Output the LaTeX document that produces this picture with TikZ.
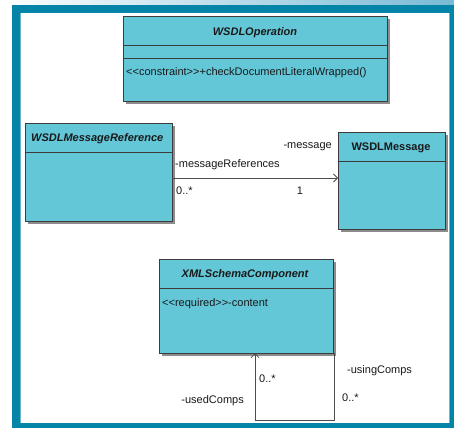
\documentclass[tikz,border=0pt]{standalone}
\usepackage{fontspec}
\setmainfont{Liberation Sans}
\usetikzlibrary{arrows.meta,shadows}
\definecolor{frameteal}{RGB}{4,132,166}
\definecolor{frameedge}{RGB}{110,180,205}
\definecolor{stripblue}{RGB}{120,186,214}
\definecolor{boxfill}{RGB}{99,199,216}
\definecolor{boxline}{RGB}{60,60,60}
\definecolor{txt}{RGB}{25,25,25}
\begin{document}
\begin{tikzpicture}[x=1pt,y=-1pt,
  font=\fontsize{11}{13}\selectfont,
  umlbox/.style={draw=boxline,line width=0.8pt,fill=boxfill,inner sep=0pt,anchor=north west,
    drop shadow={shadow xshift=3pt,shadow yshift=-3pt,fill=black!45,opacity=1}},
  sepline/.style={draw=boxline,line width=0.8pt},
  lbl/.style={inner sep=0pt,text=txt,yshift=-1.5pt},
  ttl/.style={lbl,font=\fontsize{11}{13}\selectfont\bfseries\itshape},
  assoc/.style={draw=black!70,line width=0.8pt},
  tip/.style={-{Straight Barb[length=4pt,width=8pt]}}
]
\useasboundingbox (0,0) rectangle (454,428);
\fill[white] (0,0) rectangle (454,428);
\shade[left color=white,right color=stripblue] (0,0) rectangle (454,5);
\fill[frameteal] (12,5) rectangle (454,428);
\fill[white] (20,13) rectangle (450,423);
\draw[frameedge,line width=0.8pt] (20.4,13) -- (20.4,423);
\draw[frameedge,line width=0.8pt] (449.6,13) -- (449.6,423);

% WSDLOperation
\node[umlbox,minimum width=264pt,minimum height=85pt] (op) at (123,16) {};
\draw[sepline] (123,45) -- (387,45);
\draw[sepline] (123,58) -- (387,58);
\node[ttl] (optitle) at (255,31) {WSDLOperation};
\node[lbl,anchor=west] (opmeth) at (126,71) {<{}<constraint>{}>+checkDocumentLiteralWrapped()};

% WSDLMessageReference
\node[umlbox,minimum width=147pt,minimum height=98pt] (mref) at (25,123) {};
\draw[sepline] (25,152) -- (172,152);
\node[ttl,anchor=west] (mreftitle) at (31,137) {WSDLMessageReference};

% WSDLMessage
\node[umlbox,minimum width=107pt,minimum height=97pt] (msg) at (338,132) {};
\draw[sepline] (338,161) -- (445,161);
\node[lbl,font=\fontsize{11}{13}\selectfont\bfseries] (msgtitle) at (391,146) {WSDLMessage};

% association
\coordinate (a1) at (172,178);
\coordinate (a2) at (338,178);
\draw[assoc,tip] (a1) -- (a2);
\node[lbl,anchor=west] (lmrefs) at (175,163) {-messageReferences};
\node[lbl,anchor=west] (lm0) at (176,189) {0..*};
\node[lbl,anchor=east] (lmsg) at (332,145) {-message};
\node[lbl] (lm1) at (300,189) {1};

% XMLSchemaComponent
\node[umlbox,minimum width=174pt,minimum height=94pt] (xml) at (159,259) {};
\draw[sepline] (159,288) -- (333,288);
\node[ttl] (xmltitle) at (245,273) {XMLSchemaComponent};
\node[lbl,anchor=west] (xmlattr) at (162,302) {<{}<required>{}>-content};

% self association
\coordinate (l1) at (334,353);
\coordinate (l2) at (334,420);
\coordinate (l3) at (255,420);
\coordinate (l4) at (255,353);
\draw[assoc,tip] (l1) -- (l2) -- (l3) -- (l4);
\node[lbl,anchor=west] (lu0) at (259,377) {0..*};
\node[lbl,anchor=east] (lused) at (244,399) {-usedComps};
\node[lbl,anchor=west] (lusing) at (347,369) {-usingComps};
\node[lbl,anchor=west] (lus0) at (342,396) {0..*};
\end{tikzpicture}
\end{document}
